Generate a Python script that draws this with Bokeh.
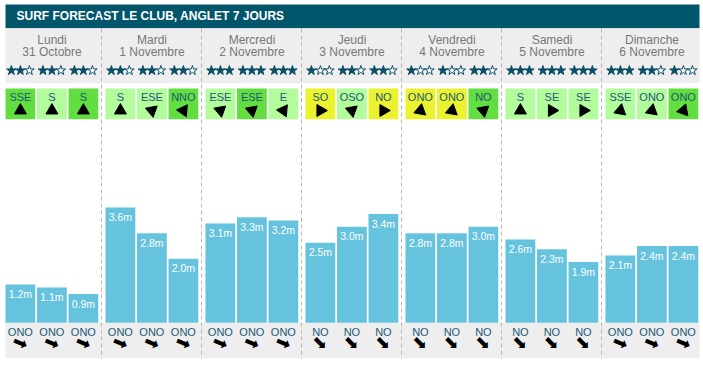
import math
from bokeh.plotting import figure
from bokeh.models import Range1d, ColumnDataSource
from bokeh.core.properties import value
from bokeh.embed import file_html
from bokeh.resources import INLINE

# ---------------- data ----------------
title = "SURF FORECAST LE CLUB, ANGLET 7 JOURS"
days = ["Lundi", "Mardi", "Mercredi", "Jeudi", "Vendredi", "Samedi", "Dimanche"]
dates = ["31 Octobre", "1 Novembre", "2 Novembre", "3 Novembre",
         "4 Novembre", "5 Novembre", "6 Novembre"]
wave_heights = [1.2, 1.1, 0.9, 3.6, 2.8, 2.0, 3.1, 3.3, 3.2, 2.5, 3.0, 3.4,
                2.8, 2.8, 3.0, 2.6, 2.3, 1.9, 2.1, 2.4, 2.4]
stars = [2, 2, 2, 2, 2, 2, 3, 3, 3, 1, 2, 2, 1, 1, 2, 3, 3, 3, 3, 2, 1]
wind_dir = ["SSE", "S", "S", "S", "ESE", "NNO", "ESE", "ESE", "E",
            "SO", "OSO", "NO", "ONO", "ONO", "NO", "S", "SE", "SE",
            "SSE", "ONO", "ONO"]
wind_quality = ["G", "L", "G", "L", "L", "G", "L", "G", "L",
                "Y", "L", "Y", "Y", "Y", "G", "L", "L", "L",
                "L", "L", "G"]
# direction the wind arrow tip points (degrees, 0 = right, 90 = up)
wind_arrow_deg = [-30, 90, 90, 90, -80, 175, -80, -80, 175,
                  -120, -80, 120, 80, 80, 160, 90, 120, 120,
                  -40, 80, 70]
swell_dir = ["ONO"] * 9 + ["NO"] * 9 + ["ONO"] * 3
compass = {"ONO": 292.5, "NO": 315.0}

# ---------------- layout helpers ----------------
W, H = 703, 367
X0, X1 = -0.01, 7.02         # day units; day d spans [d, d+1]
XL, XR = 0.04, 6.97          # left / right edge of the drawn content
PXD = W / (X1 - X0)          # pixels per day
BASE = 322.3                 # px (from top) of wave height 0
PPM = 32.0                   # pixels per metre


def Y(px):
    return (BASE - px) / PPM


SLOT_OFF, SLOT_STEP, SLOT_W = 0.04, 0.315, 0.298
n = len(wave_heights)
day_idx = [i // 3 for i in range(n)]
slot_idx = [i % 3 for i in range(n)]
left = [d + SLOT_OFF + SLOT_STEP * s for d, s in zip(day_idx, slot_idx)]
right = [l + SLOT_W for l in left]
center = [l + SLOT_W / 2 for l in left]

TEAL = "#02566b"
STAR = "#0b4f66"
TXT = "#1b5a78"
GRAY_BG = "#eeeeee"
BAR = "#66c3de"
qcol = {"G": "#63de40", "L": "#b2fc9c", "Y": "#ebf22e"}
FONT = value("Liberation Sans")

p = figure(width=W, height=H, x_range=Range1d(X0, X1),
           y_range=Range1d(Y(H), Y(0)), output_backend="svg",
           toolbar_location=None, min_border=0,
           x_axis_location=None, y_axis_location=None)
p.grid.visible = False
p.outline_line_color = None
p.background_fill_color = "white"
p.border_fill_color = "white"

# title bar
p.quad(left=XL, right=XR + 0.01, top=Y(4), bottom=Y(27.7),
       fill_color=TEAL, line_color=None)
p.text(x=[XL + 11 / PXD], y=[Y(15.8)], text=[title], text_color="white",
       text_font=FONT, text_font_style="bold", text_font_size="12px",
       text_baseline="middle", text_align="left")

# grey header and footer bands
p.quad(left=XL, right=XR + 0.01, top=Y(28), bottom=Y(82.7),
       fill_color=GRAY_BG, line_color=None)
p.quad(left=XL, right=XR + 0.01, top=Y(322.3), bottom=Y(357.7),
       fill_color=GRAY_BG, line_color=None)

# day separators
seps = list(range(1, len(days)))
p.segment(x0=seps, x1=seps, y0=[Y(28)] * len(seps), y1=[Y(358)] * len(seps),
          line_color="#b8b8b8", line_width=1, line_dash="4 3")

# day names / dates
dc = [d + 0.505 for d in range(len(days))]
p.text(x=dc, y=[Y(39)] * len(days), text=days, text_color="#777777",
       text_font=FONT, text_font_size="12px", text_align="center",
       text_baseline="middle")
p.text(x=dc, y=[Y(51.5)] * len(days), text=dates, text_color="#777777",
       text_font=FONT, text_font_size="12px", text_align="center",
       text_baseline="middle")

# stars
sx, sfill = [], []
for c, k in zip(center, stars):
    for j in range(3):
        sx.append(c + (j - 1) * 9 / PXD)
        sfill.append(STAR if j < k else "white")
p.scatter(x=sx, y=[Y(70)] * len(sx), marker="star", size=10,
          fill_color=sfill, line_color=STAR, line_width=1)

# wind boxes
p.quad(left=left, right=right, top=[Y(88)] * n, bottom=[Y(118.7)] * n,
       fill_color=[qcol[q] for q in wind_quality], line_color=None)
p.text(x=center, y=[Y(96.7)] * n, text=wind_dir, text_color=TXT,
       text_font=FONT, text_font_size="11px", text_align="center",
       text_baseline="middle")
p.scatter(x=center, y=[Y(110)] * n, marker="triangle", size=12,
          angle=[a - 90 for a in wind_arrow_deg], angle_units="deg",
          fill_color="black", line_color="black")

# wave height bars
src = ColumnDataSource(dict(left=left, right=right, top=wave_heights,
                            bottom=[0] * n, center=center,
                            ly=[h - 9.5 / PPM for h in wave_heights],
                            lab=[f"{h:.1f}m" for h in wave_heights]))
p.quad(left="left", right="right", top="top", bottom="bottom", source=src,
       fill_color=BAR, line_color=None)
p.text(x="center", y="ly", text="lab", source=src, text_color="white",
       text_font=FONT, text_font_size="10.5px", text_align="center",
       text_baseline="middle")

# swell direction
p.text(x=center, y=[Y(331)] * n, text=swell_dir, text_color=TXT,
       text_font=FONT, text_font_size="11px", text_align="center",
       text_baseline="middle")
sw_ang = [math.radians(-90 - compass[s]) for s in swell_dir]
p.text(x=center, y=[Y(342)] * n, text=["➡"] * n, angle=sw_ang,
       text_color="black", text_font=value("DejaVu Sans"),
       text_font_size="18px", text_align="center", text_baseline="middle")

open("out.html", "w").write(file_html(p, INLINE))
